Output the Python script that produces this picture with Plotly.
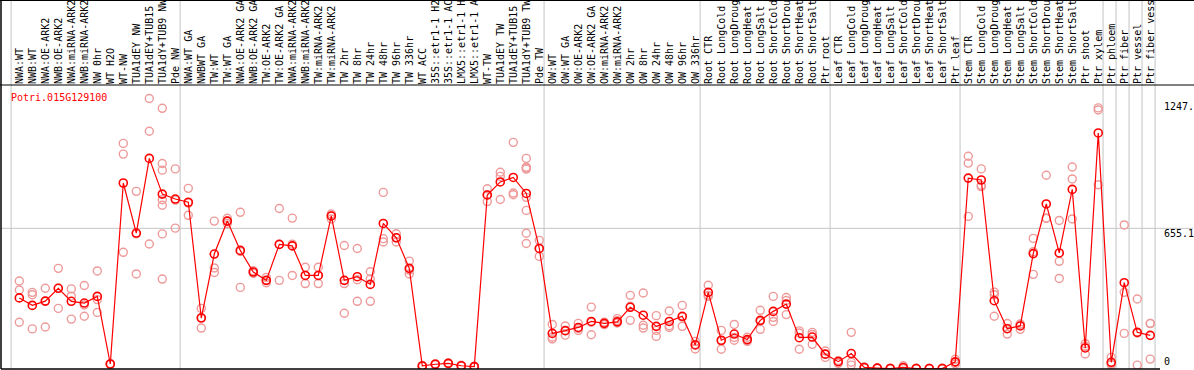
import plotly.graph_objects as go

gene_name = "Potri.015G129100"

categories = [
    "NWA:WT", "NWB:WT", "NWA:OE-ARK2", "NWB:OE-ARK2", "NWA:miRNA-ARK2", "NWB:miRNA-ARK2",
    "NW 0hr", "WT H2O", "WT-NW", "TUA1dEY NW", "TUA1dEY+TUB15 NW", "TUA1dY+TUB9 NW", "Pde NW",
    "NWA:WT GA", "NWBWT GA", "TW:WT", "TW:WT GA", "NWA:OE-ARK2 GA", "NWB:OE-ARK2 GA",
    "TW:OE-ARK2", "TW:OE-ARK2 GA", "NWA:miRNA-ARK2", "NWB:miRNA-ARK2", "TW:miRNA-ARK2",
    "TW:miRNA-ARK2", "TW 2hr", "TW 8hr", "TW 24hr", "TW 48hr", "TW 96hr", "TW 336hr",
    "WT ACC", "35S::etr1-1 H2O", "35S::etr1-1 ACC", "LMX5::etr1-1 H2O", "LMX5::etr1-1 ACC",
    "WT-TW", "TUA1dEY TW", "TUA1dEY+TUB15 TW", "TUA1dY+TUB9 TW", "Pde TW",
    "OW:WT", "OW:WT GA", "OW:OE-ARK2", "OW:OE-ARK2 GA", "OW:miRNA-ARK2", "OW:miRNA-ARK2",
    "OW 2hr", "OW 8hr", "OW 24hr", "OW 48hr", "OW 96hr", "OW 336hr",
    "Root CTR", "Root LongCold", "Root LongDrought", "Root LongHeat", "Root LongSalt",
    "Root ShortCold", "Root ShortDrought", "Root ShortHeat", "Root ShortSalt", "Ptr root",
    "Leaf CTR", "Leaf LongCold", "Leaf LongDrought", "Leaf LongHeat", "Leaf LongSalt",
    "Leaf ShortCold", "Leaf ShortDrought", "Leaf ShortHeat", "Leaf ShortSalt", "Ptr leaf",
    "Stem CTR", "Stem LongCold", "Stem LongDrought", "Stem LongHeat", "Stem LongSalt",
    "Stem ShortCold", "Stem ShortDrought", "Stem ShortHeat", "Stem ShortSalt", "Ptr shoot",
    "Ptr xylem", "Ptr phloem", "Ptr fiber", "Ptr vessel", "Ptr fiber vessel",
]

mean_values = [
    330, 295, 315, 375, 314, 306, 337, 21, 867, 633, 982, 815, 792,
    777, 236, 535, 689, 552, 451, 412, 580, 573, 435, 435, 713, 412, 429, 393, 678, 611, 468,
    12, 20, 24, 13, 9, 811, 872, 893, 818, 561,
    164, 177, 192, 220, 211, 218, 286, 249, 197, 220, 244, 110,
    356, 132, 161, 135, 225, 267, 301, 144, 147, 67,
    32, 70, 5, 2, 0, 5, 0, 0, 0, 31,
    890, 881, 317, 186, 199, 537, 769, 540, 837, 96,
    1101, 29, 401, 169, 155,
]

rep_values = [
    [409, 367, 216], [356, 345, 185], [375, 315, 194], [468, 375, 281], [372, 338, 231],
    [388, 297, 244], [456, 322, 262], [20, 22, 21], [1052, 1002, 543], [828, 442, 629],
    [1262, 1109, 582], [1216, 958, 927, 789, 763, 629, 418], [933, 656, 787],
    [842, 716, 773], [281, 189, 238], [689, 470, 449], [702, 690, 678], [730, 379, 547],
    [451, 445, 457], [426, 401, 412], [748, 412, 580], [703, 435, 581], [473, 397, 435],
    [473, 397, 435], [722, 699, 713], [575, 397, 258], [561, 415, 314], [452, 418, 314],
    [823, 607, 591], [630, 591, 611], [502, 442, 460],
    [10, 14, 12], [18, 22, 20], [22, 26, 24], [11, 15, 13], [7, 11, 9],
    [840, 780, 811], [917, 898, 790], [1057, 820, 812],
    [982, 941, 937, 932, 800, 739, 632, 584], [599, 524, 560],
    [206, 146, 138], [199, 156, 177], [211, 178, 187], [287, 158, 216], [205, 211, 217],
    [233, 224, 213], [342, 225, 291], [353, 202, 189], [247, 178, 150], [269, 192, 200],
    [295, 197, 240], [127, 91, 112],
    [389, 342, 337], [178, 90, 128], [206, 132, 145], [146, 127, 132], [272, 183, 220],
    [337, 239, 220], [332, 318, 252], [176, 90, 166], [169, 113, 159], [82, 52, 67],
    [37, 24, 35], [169, 29, 16], [5, 3, 7], [2, 1, 3], [0, 0, 1], [13, 2, 0], [0, 0, 1],
    [0, 0, 0], [0, 1, 0], [43, 21, 29],
    [992, 960, 711], [933, 856, 850], [357, 345, 244], [210, 161, 187], [206, 183, 208],
    [608, 546, 440], [903, 702, 702], [692, 501, 421], [942, 886, 699], [116, 68, 104],
    [1218, 1208, 859], [52, 24, 18], [671, 356, 164], [325, 16, 166], [210, 44, 211],
]

# index of last category of each group (separators drawn after these)
group_ends = [-1, 12, 40, 52, 62, 72, 83, 84, 85, 86, 87]

y_tick_values = [1247.0, 655.1, 0]
y_tick_texts = ["1247.", "655.1", "0"]

MONO = "DejaVu Sans Mono"
W, H = 1194, 370
ML, MR, MT, MB = 1, 34, 85, 1
plot_w = W - ML - MR
plot_h = H - MT - MB

x_idx = list(range(len(categories)))
rep_x, rep_y = [], []
for i, reps in enumerate(rep_values):
    for v in reps:
        rep_x.append(i)
        rep_y.append(v)

fig = go.Figure()
fig.add_trace(go.Scatter(
    x=rep_x, y=rep_y, mode="markers",
    marker=dict(symbol="circle-open", size=8, color="#ee9a9a", line=dict(width=1.4, color="#ee9a9a")),
    hoverinfo="skip", showlegend=False,
))
fig.add_trace(go.Scatter(
    x=x_idx, y=mean_values, mode="lines+markers",
    line=dict(color="#ff0000", width=1.2),
    marker=dict(symbol="circle-open", size=8, color="#ff0000", line=dict(width=1.6, color="#ff0000")),
    showlegend=False,
))

shapes = []
for g in group_ends:
    shapes.append(dict(type="line", xref="x", yref="paper", x0=g + 0.37, x1=g + 0.37,
                       y0=0, y1=1 + MT / plot_h, line=dict(color="#c4c4c4", width=1), layer="below"))
shapes.append(dict(type="line", xref="paper", yref="y", x0=0, x1=1 + (MR - 1) / plot_w,
                   y0=655.1, y1=655.1, line=dict(color="#c4c4c4", width=1), layer="below"))
shapes.append(dict(type="line", xref="paper", yref="paper", x0=-ML / plot_w, x1=(W - ML) / plot_w,
                   y0=1, y1=1, line=dict(color="black", width=1)))
shapes.append(dict(type="line", xref="paper", yref="paper", x0=-ML / plot_w, x1=(W - ML) / plot_w,
                   y0=1 + (MT - 0.5) / plot_h, y1=1 + (MT - 0.5) / plot_h, line=dict(color="black", width=1)))
shapes.append(dict(type="line", xref="paper", yref="paper", x0=0, x1=0,
                   y0=0, y1=1 + MT / plot_h, line=dict(color="black", width=1.5)))
shapes.append(dict(type="line", xref="paper", yref="paper", x0=0, x1=1,
                   y0=0, y1=0, line=dict(color="black", width=1.5)))

annotations = [dict(
    text=gene_name, xref="paper", yref="paper", x=8.3 / plot_w, xanchor="left",
    y=(H - MB - 97) / plot_h, yanchor="middle", showarrow=False,
    font=dict(family=MONO, size=10, color="#ff0000"),
)]
shifts = [-5, -5, 7]
for v, t, s in zip(y_tick_values, y_tick_texts, shifts):
    annotations.append(dict(
        text=t, xref="paper", yref="y", x=(1162 - ML) / plot_w, xanchor="left",
        y=v, yanchor="middle", yshift=s, showarrow=False,
        font=dict(family=MONO, size=10, color="black"),
    ))

fig.update_layout(
    width=W, height=H,
    margin=dict(l=ML, r=MR, t=MT, b=MB, pad=0),
    paper_bgcolor="white", plot_bgcolor="white",
    shapes=shapes, annotations=annotations,
    xaxis=dict(
        range=[-1.408, 87.75], side="top", tickmode="array",
        tickvals=x_idx, ticktext=categories, tickangle=-90,
        tickfont=dict(family=MONO, size=10, color="black"),
        ticks="", showgrid=False, zeroline=False, showline=False, automargin=False,
        ticklabelstandoff=0,
    ),
    yaxis=dict(
        range=[-2.3, 1325], showgrid=False, zeroline=False, showline=False,
        showticklabels=False, ticks="", automargin=False,
    ),
)

fig.write_html(
    "out.html",
    config={"displayModeBar": False},
    post_script="document.body.style.margin='0';document.body.style.padding='0';document.body.style.overflow='hidden';",
)
